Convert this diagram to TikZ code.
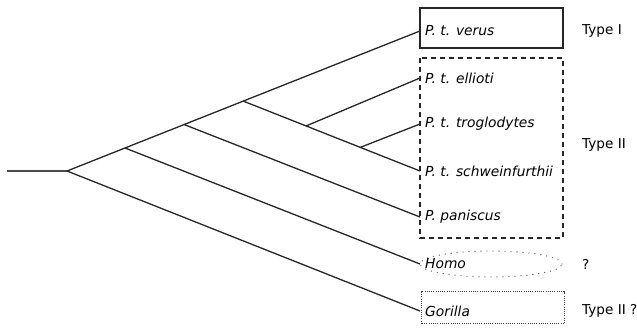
\documentclass[tikz,border=0pt]{standalone}
\usepackage{fontspec}
\setmainfont{DejaVu Sans}
\usetikzlibrary{shapes.geometric}
\tikzset{
  branch/.style={line width=1.3pt, black!85},
  taxon/.style={anchor=west, inner xsep=5pt, inner ysep=0pt, font=\itshape\fontsize{13.8}{15}\selectfont},
  typelabel/.style={anchor=west, inner sep=0pt, font=\fontsize{13.6}{15}\selectfont},
  groupbox/.style={line width=1pt, black!85},
}
\begin{document}
\begin{tikzpicture}[x=1pt,y=-1pt]
\useasboundingbox (0,0) rectangle (637,336);

% group outlines
\draw[groupbox, line width=1.2pt] (420,8) rectangle (563,48);
\draw[groupbox, line width=1.1pt, dash pattern=on 5pt off 4pt] (420,58) rectangle (563,238);
\draw[groupbox, line width=1.4pt, black!60, line cap=round, dash pattern=on 0pt off 6pt]
  (491,264) ellipse (71pt and 13pt);
\draw[groupbox, line width=1pt, black!75, dash pattern=on 1pt off 1.2pt] (421,292) rectangle (564,324);

% taxa
\node[taxon] (verus) at (420,31) {P. t. verus};
\node[taxon] (ellioti) at (420,78) {P. t. ellioti};
\node[taxon] (trog) at (420,124) {P. t. troglodytes};
\node[taxon] (schw) at (420,171) {P. t. schweinfurthii};
\node[taxon] (pan) at (420,217) {P. paniscus};
\node[taxon] (homo) at (420,264) {Homo};
\node[taxon] (gor) at (420,311) {Gorilla};

% group labels
\node[typelabel] (t1) at (582,31) {Type I};
\node[typelabel] (t2) at (582,145) {Type II};
\node[typelabel] (tq) at (582,264) {?};
\node[typelabel] (t2q) at (582,311) {Type II ?};

% internal nodes of the tree
\coordinate (stem) at (7,171);
\coordinate (root) at (67,171);
\coordinate (n1) at (125,148);
\coordinate (n2) at (184,124.5);
\coordinate (n3) at (243,101);
\coordinate (n4) at (306,126);
\coordinate (n5) at (360,147.5);

% branches
\draw[branch, black!70] (stem) -- (root);
\draw[branch] (root) -- (verus.west);
\draw[branch] (root) -- (gor.west);
\draw[branch] (n1) -- (homo.west);
\draw[branch] (n2) -- (pan.west);
\draw[branch] (n3) -- (schw.west);
\draw[branch] (n4) -- (ellioti.west);
\draw[branch] (n5) -- (trog.west);
\end{tikzpicture}
\end{document}
